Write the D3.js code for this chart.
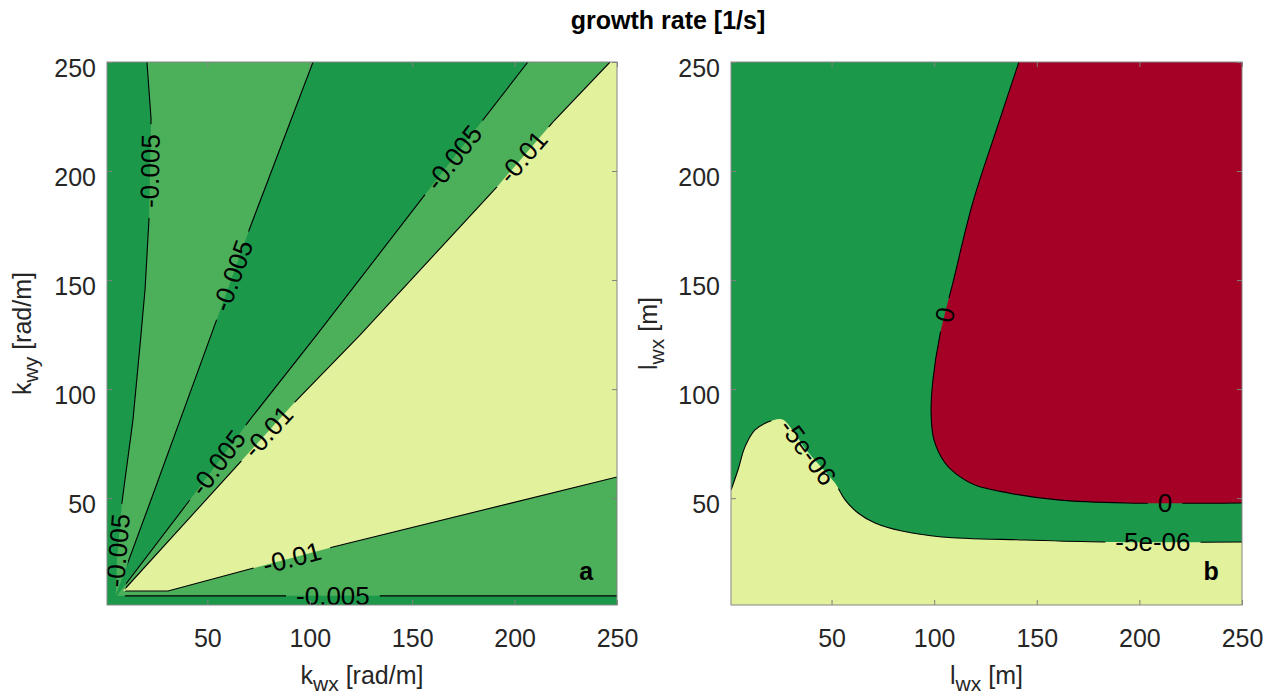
<!DOCTYPE html>
<html>
<head>
<meta charset="utf-8">
<script src="https://cdn.jsdelivr.net/npm/d3@7"></script>
<style>
  body { margin: 0; background: #ffffff; }
  text { font-family: "Liberation Sans", Arial, Helvetica, sans-serif; }
</style>
</head>
<body>
<div id="mainGraphic"></div>
<script>
let svgWidth = 1277
let svgHeight = 700

// shared axes
let axisDomain = [1, 250]
let tickValues = [50, 100, 150, 200, 250]

// panel a: contour lines in (k_wx, k_wy) [rad/m]
let levelsA = ["-0.005", "-0.005", "-0.01"]
let contourA = [
  [[20.5,250],[22.5,224],[22,200],[21.5,178],[19.6,146],[17.6,125],[13.7,86],[8.3,48],[5.9,22],[5.3,5.5],
   [23,50.5],[52.3,126],[70.8,174],[101.6,250]],
  [[206.5,250],[155.3,188],[103.5,125],[70.8,86],[40.5,48],[5.8,5.2],[250,5.2]],
  [[246.6,250],[218.8,222.5],[191.4,192.7],[124.5,124.8],[92.8,94.1],[8.8,7.4],[30.8,7.4],
   [70.8,17.5],[111.3,27.6],[250,59.7]]
]
let labelsA = [
  {line: 0, x: 22, y: 200}, {line: 0, x: 5.6, y: 26}, {line: 0, x: 62.5, y: 152},
  {line: 1, x: 170.5, y: 206}, {line: 1, x: 55.5, y: 66}, {line: 1, x: 111.3, y: 5.2},
  {line: 2, x: 204, y: 206.5}, {line: 2, x: 79.6, y: 80.5}, {line: 2, x: 91.3, y: 22.5}
]

// panel b: contour lines in (l_wx, l_wy) [m]
let levelsB = ["0", "-5e-06"]
let contourB = [
  [[141.3,250],[131.6,222.5],[118.9,185.8],[109.2,149.1],[102.8,124.8],[99.4,104.2],[98.5,89.1],
   [99.9,76.7],[105.3,66.1],[110.2,61.5],[119.9,56],[136,52.4],[160.3,49.2],[193,47.8],[250,47.8]],
  [[1,53.7],[4.4,62.9],[7.8,73.5],[12.7,81.3],[19,84.9],[24.9,86.3],[27.3,85.4],[38.5,71.2],
   [51.7,56.9],[56.6,49.2],[62.9,43.2],[71.2,38.6],[84.3,34.9],[103.8,32.2],[144.3,30.8],
   [183.2,29.9],[250,29.9]]
]
let labelsB = [
  {line: 0, x: 105.5, y: 134}, {line: 0, x: 212.5, y: 47.8},
  {line: 1, x: 38.5, y: 71.2}, {line: 1, x: 206.6, y: 29.9}
]

let darkGreen = "#1c984b"
let lightGreen = "#4caf5a"
let paleYellow = "#e2f19b"
let darkRed = "#a50026"

renderChart();

function renderChart(){
  let svg = d3.select("#mainGraphic")
    .append("svg")
      .attr("width", svgWidth)
      .attr("height", svgHeight)
  svg.append("defs")

  svg.append("text")
    .attr("x", 668)
    .attr("y", 29)
    .attr("text-anchor", "middle")
    .style("font-size", "25px")
    .style("font-weight", "bold")
    .text("growth rate [1/s]")

  drawPanel(svg, {
    id: "a", left: 107, right: 617, top: 62, bottom: 605,
    curve: d3.curveLinear,
    contours: contourA, levels: levelsA, labels: labelsA,
    fills: [
      {color: lightGreen, points: contourA[0], corners: []},
      {color: lightGreen, points: contourA[1], corners: [[250,250]]},
      {color: paleYellow, points: contourA[2], corners: [[250,250]]}
    ],
    xName: ["k", "wx", " [rad/m]"], yName: ["k", "wy", " [rad/m]"], yNameX: 31,
    letter: "a"
  })

  drawPanel(svg, {
    id: "b", left: 731, right: 1242, top: 62, bottom: 605,
    curve: d3.curveCatmullRom.alpha(0.5),
    contours: contourB, levels: levelsB, labels: labelsB,
    fills: [
      {color: darkRed, points: contourB[0], corners: [[250,250]]},
      {color: paleYellow, points: contourB[1], corners: [[250,1],[1,1]]}
    ],
    xName: ["l", "wx", " [m]"], yName: ["l", "wx", " [m]"], yNameX: 657,
    letter: "b"
  })
}

function drawPanel(svg, p){
  let x = d3.scaleLinear().domain(axisDomain).range([p.left, p.right])
  let y = d3.scaleLinear().domain(axisDomain).range([p.bottom, p.top])
  let line = d3.line().x(d => x(d[0])).y(d => y(d[1])).curve(p.curve)
  let defs = svg.select("defs")

  defs.append("clipPath").attr("id", "clip-" + p.id)
    .append("rect")
      .attr("x", p.left).attr("y", p.top)
      .attr("width", p.right - p.left).attr("height", p.bottom - p.top)

  let mask = defs.append("mask").attr("id", "gaps-" + p.id)
    .attr("maskUnits", "userSpaceOnUse")
    .attr("x", 0).attr("y", 0).attr("width", svgWidth).attr("height", svgHeight)
  mask.append("rect")
    .attr("x", 0).attr("y", 0).attr("width", svgWidth).attr("height", svgHeight)
    .attr("fill", "white")

  let plot = svg.append("g").attr("clip-path", `url(#clip-${p.id})`)
  plot.append("rect")
    .attr("x", p.left).attr("y", p.top)
    .attr("width", p.right - p.left).attr("height", p.bottom - p.top)
    .attr("fill", darkGreen)

  p.fills.forEach(f => {
    let d = line(f.points) + f.corners.map(c => `L${x(c[0])},${y(c[1])}`).join("") + "Z"
    plot.append("path").attr("d", d).attr("fill", f.color)
  })

  plot.append("g")
    .attr("mask", `url(#gaps-${p.id})`)
    .selectAll("path")
    .data(p.contours)
    .enter()
    .append("path")
      .attr("d", line)
      .attr("fill", "none")
      .attr("stroke", "#000")
      .attr("stroke-width", 1.1)

  // inline contour labels, rotated along the line
  let labelG = svg.append("g")
  p.labels.forEach(lab => {
    let pts = p.contours[lab.line].map(d => [x(d[0]), y(d[1])])
    let target = [x(lab.x), y(lab.y)]
    let best = null
    for (let i = 0; i < pts.length - 1; i++) {
      let a = pts[i], b = pts[i + 1]
      let dx = b[0] - a[0], dy = b[1] - a[1]
      let len2 = dx * dx + dy * dy
      if (len2 === 0) continue
      let t = ((target[0] - a[0]) * dx + (target[1] - a[1]) * dy) / len2
      t = Math.max(0, Math.min(1, t))
      let px = a[0] + t * dx, py = a[1] + t * dy
      let dist = Math.hypot(px - target[0], py - target[1])
      if (!best || dist < best.dist) best = {dist: dist, px: px, py: py, angle: Math.atan2(dy, dx) * 180 / Math.PI}
    }
    let angle = best.angle
    if (angle > 90) angle -= 180
    if (angle < -90) angle += 180
    let tf = `translate(${best.px},${best.py}) rotate(${angle})`
    let txt = labelG.append("text")
      .attr("transform", tf)
      .attr("text-anchor", "middle")
      .attr("dy", "0.35em")
      .style("font-size", "26px")
      .attr("fill", "#000")
      .text(p.levels[lab.line])
    let w = txt.node().getComputedTextLength()
    mask.append("rect")
      .attr("transform", tf)
      .attr("x", -w / 2 - 10).attr("y", -11)
      .attr("width", w + 20).attr("height", 22)
      .attr("fill", "black")
  })

  // axes
  let styleAxis = g => {
    g.attr("font-size", null).attr("font-family", null)
    g.select(".domain").remove()
    g.selectAll(".tick line").attr("stroke", "#808080")
    g.selectAll(".tick text").attr("fill", "#262626").style("font-size", "25px")
  }
  svg.append("g")
    .attr("transform", `translate(0,${p.bottom})`)
    .call(d3.axisBottom(x).tickValues(tickValues).tickSize(-5).tickPadding(24))
    .call(styleAxis)
  svg.append("g")
    .attr("transform", `translate(0,${p.top})`)
    .call(d3.axisTop(x).tickValues(tickValues).tickSize(-5).tickFormat(""))
    .call(styleAxis)
  svg.append("g")
    .attr("transform", `translate(${p.left},0)`)
    .call(d3.axisLeft(y).tickValues(tickValues).tickSize(-5).tickPadding(11))
    .call(styleAxis)
    .selectAll(".tick text").attr("dy", "0.57em")
  svg.append("g")
    .attr("transform", `translate(${p.right},0)`)
    .call(d3.axisRight(y).tickValues(tickValues).tickSize(-5).tickFormat(""))
    .call(styleAxis)

  svg.append("rect")
    .attr("x", p.left).attr("y", p.top)
    .attr("width", p.right - p.left).attr("height", p.bottom - p.top)
    .attr("fill", "none")
    .attr("stroke", "#858585")
    .attr("stroke-width", 1)

  // axis titles with subscripts
  let xTitle = svg.append("text")
    .attr("x", (p.left + p.right) / 2)
    .attr("y", 684)
    .attr("text-anchor", "middle")
    .attr("fill", "#262626")
    .style("font-size", "25px")
  addName(xTitle, p.xName)

  let yTitle = svg.append("text")
    .attr("transform", `translate(${p.yNameX},${(p.top + p.bottom) / 2}) rotate(-90)`)
    .attr("text-anchor", "middle")
    .attr("fill", "#262626")
    .style("font-size", "25px")
  addName(yTitle, p.yName)

  svg.append("text")
    .attr("x", x(235))
    .attr("y", y(12.5))
    .attr("text-anchor", "middle")
    .style("font-size", "25px")
    .style("font-weight", "bold")
    .text(p.letter)
}

function addName(t, parts){
  t.append("tspan").text(parts[0])
  t.append("tspan").attr("dy", 7).style("font-size", "21px").text(parts[1])
  t.append("tspan").attr("dy", -7).text(parts[2])
}
</script>
</body>
</html>
